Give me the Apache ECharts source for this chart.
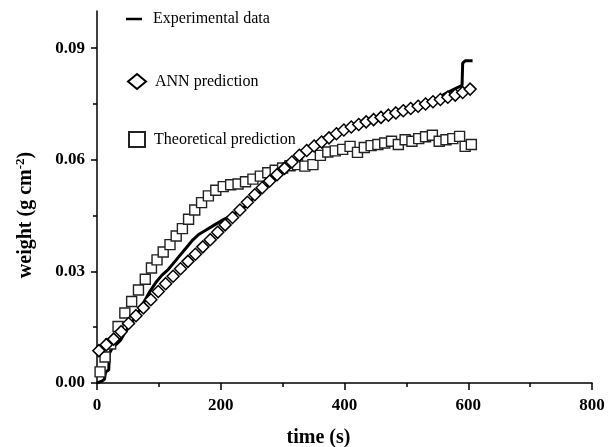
<!DOCTYPE html>
<html>
<head>
<meta charset="utf-8">
<script src="https://cdn.jsdelivr.net/npm/echarts@6/dist/echarts.min.js"></script>
<style>html,body{margin:0;padding:0;background:#fff}#c{width:608px;height:447px}</style>
</head>
<body>
<div id="c"></div>
<script>
const seriesNames = ['Experimental data', 'ANN prediction', 'Theoretical prediction'];
const xTickLabels = ['0', '200', '400', '600', '800'];
const yTickValues = [0, 0.03, 0.06, 0.09];
const yMinorTickValues = [0.015, 0.045, 0.075];

const expTime = [0, 8, 12, 14, 19, 20, 25, 32, 38, 45, 55, 65, 75, 85, 95, 105, 115, 125, 135, 145, 155, 165, 175, 190, 205, 220, 235, 250, 265, 280, 300, 320, 340, 360, 380, 400, 420, 440, 460, 480, 500, 520, 540, 560, 575, 585, 590, 591, 595, 607];
const expWeight = [0.0000, 0.0005, 0.0010, 0.0030, 0.0035, 0.0080, 0.0095, 0.0105, 0.0115, 0.0135, 0.0160, 0.0185, 0.0215, 0.0245, 0.0270, 0.0290, 0.0305, 0.0325, 0.0345, 0.0365, 0.0385, 0.0400, 0.0410, 0.0425, 0.0440, 0.0452, 0.0468, 0.0492, 0.0515, 0.0538, 0.0566, 0.0595, 0.0623, 0.0644, 0.0662, 0.0676, 0.0689, 0.0701, 0.0711, 0.0721, 0.0731, 0.0741, 0.0755, 0.0775, 0.0788, 0.0796, 0.0800, 0.0860, 0.0866, 0.0866];

const annTime = [3, 15, 27, 39, 51, 63, 75, 87, 99, 111, 123, 135, 147, 159, 171, 183, 195, 207, 219, 231, 243, 255, 267, 279, 291, 303, 315, 327, 339, 351, 363, 375, 387, 399, 411, 423, 435, 447, 459, 471, 483, 495, 507, 519, 531, 543, 555, 567, 579, 591, 603];
const annWeight = [0.0087, 0.0103, 0.0118, 0.0138, 0.0160, 0.0181, 0.0202, 0.0224, 0.0246, 0.0267, 0.0287, 0.0307, 0.0327, 0.0346, 0.0366, 0.0385, 0.0405, 0.0425, 0.0445, 0.0465, 0.0486, 0.0506, 0.0525, 0.0543, 0.0560, 0.0577, 0.0594, 0.0612, 0.0625, 0.0637, 0.0648, 0.0659, 0.0670, 0.0680, 0.0688, 0.0695, 0.0702, 0.0708, 0.0714, 0.0720, 0.0726, 0.0732, 0.0738, 0.0744, 0.0750, 0.0756, 0.0762, 0.0768, 0.0774, 0.0781, 0.0790];

const theoTime = [5, 13, 22, 34, 45, 56, 67, 78, 88, 97, 107, 118, 128, 138, 148, 158, 169, 180, 192, 204, 216, 228, 240, 252, 264, 276, 288, 300, 312, 324, 336, 349, 361, 373, 385, 397, 409, 421, 432, 443, 454, 465, 476, 487, 498, 509, 520, 531, 542, 553, 564, 575, 586, 595, 605];
const theoWeight = [0.0030, 0.0070, 0.0105, 0.0152, 0.0188, 0.0219, 0.0250, 0.0279, 0.0309, 0.0331, 0.0352, 0.0372, 0.0395, 0.0415, 0.0440, 0.0465, 0.0485, 0.0503, 0.0518, 0.0528, 0.0533, 0.0535, 0.0541, 0.0548, 0.0556, 0.0565, 0.0572, 0.0578, 0.0584, 0.0587, 0.0583, 0.0587, 0.0612, 0.0621, 0.0624, 0.0628, 0.0636, 0.0620, 0.0633, 0.0638, 0.0641, 0.0645, 0.0650, 0.0641, 0.0654, 0.0650, 0.0657, 0.0662, 0.0666, 0.0650, 0.0654, 0.0657, 0.0663, 0.0636, 0.0641];

const zip = (a, b) => a.map((v, i) => [v, b[i]]);
const FONT = '"Liberation Serif", "Times New Roman", serif';

const chart = echarts.init(document.getElementById('c'), null, {renderer: 'canvas'});
const legendText = (pad) => ({fontFamily: FONT, fontSize: 16, color: '#000', padding: [0, 0, 0, pad]});
chart.setOption({
  animation: false,
  backgroundColor: '#fff',
  grid: {left: 97, right: 16, top: 11, bottom: 64, containLabel: false, outerBoundsMode: 'none'},
  legend: [
    {data: [seriesNames[0]], left: 126, top: 11, padding: 0, icon: 'rect', itemWidth: 16, itemHeight: 2.5, textStyle: legendText(6)},
    {data: [seriesNames[1]], left: 127, top: 73, padding: 0, itemWidth: 18, itemHeight: 15, textStyle: legendText(4)},
    {data: [seriesNames[2]], left: 128, top: 131, padding: 0, itemWidth: 16, itemHeight: 15, textStyle: legendText(4)}
  ],
  xAxis: {
    type: 'value', min: 0, max: 800, interval: 200,
    name: 'time (s)', nameLocation: 'middle', nameGap: 45,
    nameTextStyle: {fontFamily: FONT, fontSize: 20, fontWeight: 'bold', color: '#000', padding: [0, 52, 0, 0]},
    axisLine: {lineStyle: {color: '#000', width: 1.5}},
    axisTick: {length: 7, lineStyle: {color: '#000', width: 1.5}},
    minorTick: {show: true, splitNumber: 2, length: 4, lineStyle: {color: '#000', width: 1.5}},
    splitLine: {show: false},
    axisLabel: {margin: 14, fontFamily: FONT, fontSize: 17, fontWeight: 'bold', color: '#000',
      formatter: (v) => xTickLabels[Math.round(v / 200)]}
  },
  yAxis: [{
    type: 'value', min: 0, max: 0.1,
    name: '{a|weight (g cm}{s|-2}{a|)}', nameLocation: 'middle', nameGap: 60, nameRotate: 90,
    nameTextStyle: {
      padding: [0, 36, 0, 0],
      rich: {
        a: {fontFamily: FONT, fontSize: 20, fontWeight: 'bold', color: '#000'},
        s: {fontFamily: FONT, fontSize: 13, fontWeight: 'bold', color: '#000', verticalAlign: 'top', padding: [0, 0, 10, 0]}
      }
    },
    axisLine: {show: true, lineStyle: {color: '#000', width: 1.5}},
    axisTick: {show: true, length: 6, customValues: yTickValues, lineStyle: {color: '#000', width: 1.5}},
    splitLine: {show: false},
    axisLabel: {margin: 12, customValues: yTickValues, fontFamily: FONT, fontSize: 17, fontWeight: 'bold', color: '#000',
      formatter: (v) => v.toFixed(2)}
  }, {
    type: 'value', min: 0, max: 0.1, position: 'left', offset: 0,
    axisLine: {show: false},
    axisTick: {show: true, length: 4, customValues: yMinorTickValues, lineStyle: {color: '#000', width: 1.5}},
    axisLabel: {show: false},
    splitLine: {show: false}
  }],
  series: [
    {
      name: seriesNames[0], type: 'line', data: zip(expTime, expWeight),
      showSymbol: false, symbol: 'none', lineStyle: {color: '#000', width: 3}, itemStyle: {color: '#000'}, z: 2
    },
    {
      name: seriesNames[2], type: 'scatter', data: zip(theoTime, theoWeight),
      symbol: 'rect', symbolSize: 10,
      itemStyle: {color: '#fff', borderColor: '#222', borderWidth: 1.4, opacity: 1}, z: 3
    },
    {
      name: seriesNames[1], type: 'scatter', data: zip(annTime, annWeight),
      symbol: 'diamond', symbolSize: [12, 12],
      itemStyle: {color: '#fff', borderColor: '#000', borderWidth: 1.5, opacity: 1}, z: 4
    }
  ]
});
</script>
</body>
</html>
